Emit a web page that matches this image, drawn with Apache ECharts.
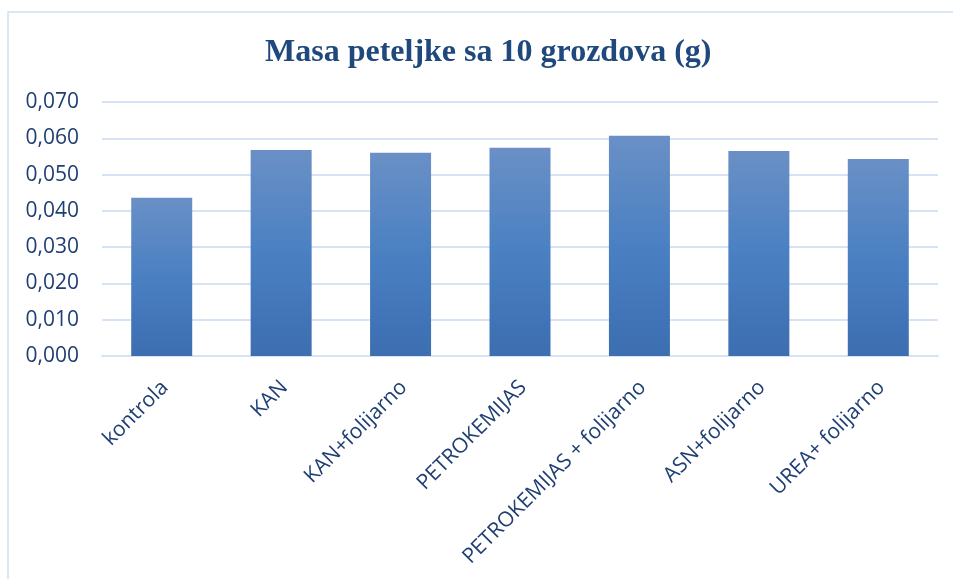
<!DOCTYPE html>
<html><head><meta charset="utf-8">
<script src="https://cdn.jsdelivr.net/npm/echarts@6/dist/echarts.min.js"></script>
<style>html,body{margin:0;padding:0;background:#fff}#c{width:953px;height:579px}</style>
</head><body><div id="c"></div>
<script>
const title = 'Masa peteljke sa 10 grozdova (g)';
const categories = ['kontrola','KAN','KAN+folijarno','PETROKEMIJAS','PETROKEMIJAS + folijarno','ASN+folijarno','UREA+ folijarno'];
const values = [0.0436, 0.0568, 0.0560, 0.0574, 0.0607, 0.0565, 0.0543];
const yMin = 0, yMax = 0.07, yStep = 0.01;

const chart = echarts.init(document.getElementById('c'), null, {renderer:'canvas'});
chart.setOption({
  animation:false,
  backgroundColor:'#fff',
  title:{text:title,left:260,top:32,textStyle:{fontFamily:'Liberation Serif',fontWeight:'bold',fontSize:32,color:'#1F497D'}},
  graphic:[{type:'rect',shape:{x:8,y:12,width:960,height:600},style:{fill:'none',stroke:'#CFE0F3',lineWidth:1.5},silent:true}],
  grid:{left:102,right:15,top:102,bottom:223},
  xAxis:{type:'category',data:categories,
    axisLine:{show:true,lineStyle:{color:'#D6E3F4',width:2}},axisTick:{show:false},
    axisLabel:{rotate:45,interval:0,margin:25,verticalAlign:'top',lineHeight:9,color:'#1F3F73',fontFamily:'Open Sans',fontSize:21}},
  yAxis:{type:'value',min:yMin,max:yMax,interval:yStep,
    axisLine:{show:false},axisTick:{show:false},
    splitLine:{lineStyle:{color:'#D6E3F4',width:2}},
    axisLabel:{margin:23,color:'#1F3F73',fontFamily:'Open Sans',fontSize:21,formatter:v=>v.toFixed(3).replace('.',',')}},
  series:[{type:'bar',data:values,barWidth:61,
    itemStyle:{color:new echarts.graphic.LinearGradient(0,0,0,1,[
      {offset:0,color:'#6A90C6'},{offset:0.5,color:'#4A80C2'},{offset:1,color:'#3C6EB0'}])}}]
});
</script></body></html>
